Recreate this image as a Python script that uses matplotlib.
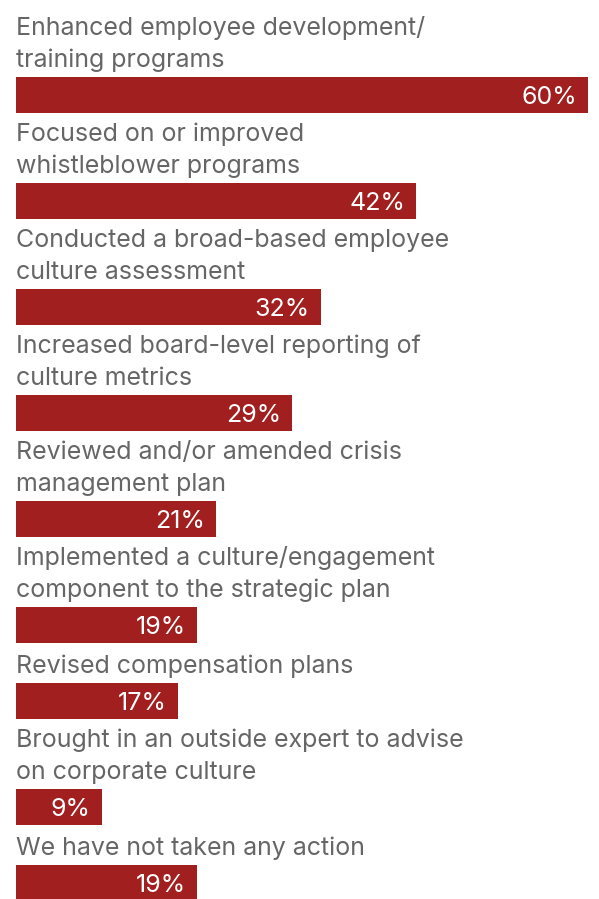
import matplotlib
matplotlib.use("Agg")
import matplotlib.pyplot as plt

categories = [
    "Enhanced employee development/\ntraining programs",
    "Focused on or improved\nwhistleblower programs",
    "Conducted a broad-based employee\nculture assessment",
    "Increased board-level reporting of\nculture metrics",
    "Reviewed and/or amended crisis\nmanagement plan",
    "Implemented a culture/engagement\ncomponent to the strategic plan",
    "Revised compensation plans",
    "Brought in an outside expert to advise\non corporate culture",
    "We have not taken any action",
]
values = [60, 42, 32, 29, 21, 19, 17, 9, 19]

BAR_COLOR = "#A21F20"
TEXT_COLOR = "#666666"
FONT = "Inter"
FS = 18

W, H = 599, 899
fig = plt.figure(figsize=(W / 100, H / 100), dpi=100)
x0, x1 = 16, 588
ax = fig.add_axes([x0 / W, 0, (x1 - x0) / W, 1])
ax.set_xlim(0, 60)
ax.set_ylim(H, 0)
ax.axis("off")

line_h = 32
bar_h = 36
gap_below_text = 10
cursor = 7  # bottom of previous bar (pixel units)
for i, (cat, val) in enumerate(zip(categories, values)):
    lines = cat.split("\n")
    n = len(lines)
    bar_top = cursor + (70 if n == 2 else 40)
    for k, ln in enumerate(lines):
        base = bar_top - gap_below_text - (n - 1 - k) * line_h
        ax.text(0, base, ln, ha="left", va="baseline", color=TEXT_COLOR,
                fontsize=FS, family=FONT)
    ax.barh(bar_top + bar_h / 2, val, height=bar_h, color=BAR_COLOR, left=0)
    ax.annotate(f"{val}%", xy=(val, bar_top + bar_h / 2 + 9), xytext=(-8, 0),
                textcoords="offset points", ha="right", va="baseline",
                color="white", fontsize=FS, family=FONT)
    cursor = bar_top + bar_h

fig.savefig("out.png", dpi=100)
